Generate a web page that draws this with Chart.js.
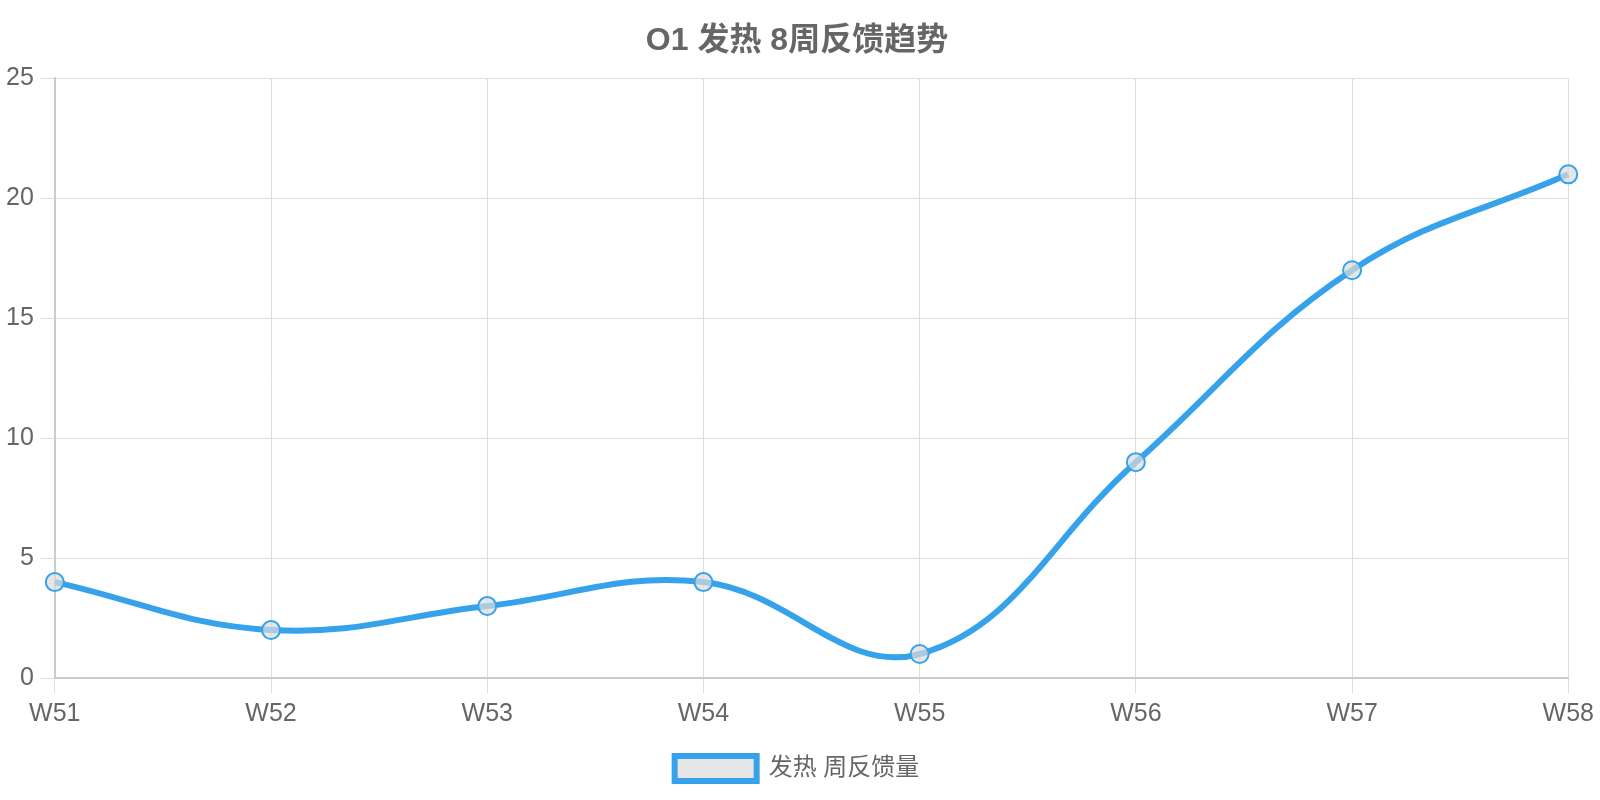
<!DOCTYPE html>
<html>
<head>
<meta charset="utf-8">
<script src="https://cdn.jsdelivr.net/npm/chart.js@4"></script>
<style>
html,body{margin:0;padding:0;background:#fff;}
#wrap{width:1600px;height:800px;}
</style>
</head>
<body>
<div id="wrap"><canvas id="c" width="1600" height="800"></canvas></div>
<script>
const titleText = 'O1 发热 8周反馈趋势';
const seriesLabel = '发热 周反馈量';
const weeks = ['W51','W52','W53','W54','W55','W56','W57','W58'];
const counts = [4, 2, 3, 4, 1, 9, 17, 21];

const FONT = "'Liberation Sans', Arial, 'Noto Sans CJK SC', sans-serif";
Chart.defaults.font.family = FONT;
Chart.defaults.color = '#666';

new Chart(document.getElementById('c'), {
  type: 'line',
  data: {
    labels: weeks,
    datasets: [{
      label: seriesLabel,
      data: counts,
      borderColor: '#36A2EB',
      backgroundColor: 'rgba(220,220,220,0.7)',
      borderWidth: 6,
      tension: 0.4,
      fill: false,
      pointRadius: 9,
      pointHoverRadius: 9,
      pointBorderWidth: 2,
      pointBorderColor: '#36A2EB',
      pointBackgroundColor: 'rgba(220,220,220,0.7)'
    }]
  },
  options: {
    responsive: false,
    animation: false,
    devicePixelRatio: 1,
    layout: { padding: { left: 0, right: 6, top: 0, bottom: 9 } },
    plugins: {
      title: {
        display: true,
        text: titleText,
        font: { size: 32, weight: 'bold', family: FONT },
        color: '#666',
        padding: { top: 22, bottom: 18 }
      },
      legend: {
        position: 'bottom',
        labels: {
          font: { size: 24, family: FONT },
          color: '#666',
          boxWidth: 82,
          boxHeight: 25,
          padding: 21
        }
      },
      tooltip: { enabled: false }
    },
    scales: {
      x: {
        offset: false,
        grid: { color: '#ddd', tickLength: 15 },
        border: { color: '#ccc', width: 2 },
        ticks: { font: { size: 25, family: FONT }, color: '#666', padding: 6 }
      },
      y: {
        min: 0, max: 25,
        ticks: { stepSize: 5, font: { size: 25, family: FONT }, color: '#666', padding: 6 },
        grid: { color: '#ddd', tickLength: 15 },
        border: { color: '#ccc', width: 2 }
      }
    }
  }
});
</script>
</body>
</html>
